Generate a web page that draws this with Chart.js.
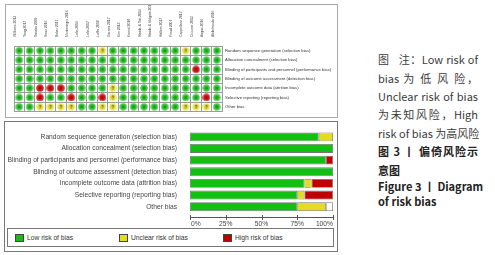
<!DOCTYPE html>
<html>
<head>
<meta charset="utf-8">
<script src="https://cdn.jsdelivr.net/npm/chart.js@4.4.0/dist/chart.umd.min.js"></script>
<style>
  body { margin: 0; width: 495px; height: 255px; background: #fff; position: relative; overflow: hidden;
         font-family: "Liberation Sans", Arial, sans-serif; }
  .box { position: absolute; box-sizing: border-box; }
  #sumBox { left: 5px; top: 4px; width: 333px; height: 114px; border: 1px solid #a8a8a8; }
  #sumWrap { position: absolute; left: 6px; top: 5px; width: 331px; height: 112px; }
  #barBox { left: 4px; top: 121px; width: 334px; height: 131px; border: 1px solid #777; }
  #barWrap { position: absolute; left: 5px; top: 122px; width: 331px; height: 106px; }
  #legend { left: 7px; top: 228px; width: 327px; height: 19px; border: 1px solid #777; font-size: 6.7px; color: #333; }
  .sw { position: absolute; top: 5px; width: 9px; height: 8px; border: 1px solid #444; box-sizing: border-box; }
  .lt { position: absolute; top: 5px; line-height: 8px; }
  .cap { position: absolute; left: 378px; width: 100px; font-family: "Noto Sans CJK SC", sans-serif; font-size: 11px;
         color: #3b3b3b; line-height: 14px; white-space: nowrap; text-align: justify; text-align-last: justify; }
  .cap.b { font-weight: bold; color: #222; }
  .cap.l { text-align-last: left; }
</style>
</head>
<body>
<div class="box" id="sumBox"></div>
<div id="sumWrap"><canvas id="summary" width="331" height="112"></canvas></div>

<div class="box" id="barBox"></div>
<div id="barWrap"><canvas id="bars" width="331" height="106"></canvas></div>
<div class="box" id="legend"></div>

<div class="cap" style="top:52px">图&nbsp;&nbsp;&nbsp;注：Low risk of</div>
<div class="cap" style="top:71px">bias 为 低 风 险，</div>
<div class="cap" style="top:89px">Unclear risk of bias</div>
<div class="cap" style="top:107px">为未知风险，High</div>
<div class="cap" style="top:126px">risk of bias 为高风险</div>
<div class="cap b" style="top:144px">图 3 丨 偏倚风险示</div>
<div class="cap b l" style="top:163px">意图</div>
<div class="cap b" style="top:179px">Figure 3 丨 Diagram</div>
<div class="cap b l" style="top:194px">of risk bias</div>

<script>
const studies = ['Williams 2013', 'Yang 2017', 'Tanaka 2009', 'Sano 2016', 'Baker 2017', 'Montenegro 2016',
  'Lafin 2016', 'Lafin 2017', 'Laffin 2018', 'Gersen 2017', 'Kim 2013', 'Kemal 2018', 'Hands & Tait 2014',
  'Hands & Holgate 2014', 'Hallam 2017', 'Freud 2007', 'Cappellano 2017', 'Ciccone 2013', 'Angus 2016',
  'Abdelmoula 2016'];

const domains = [
  'Random sequence generation (selection bias)',
  'Allocation concealment (selection bias)',
  'Blinding of participants and personnel (performance bias)',
  'Blinding of outcome assessment (detection bias)',
  'Incomplete outcome data (attrition bias)',
  'Selective reporting (reporting bias)',
  'Other bias'
];

// one letter per study: L = low, U = unclear, H = high
const randomSeq  = 'LLLLLLLLULLLLLLLULLL';
const allocation = 'LLLLLLLLLLLLLLLLLLLL';
const blindPart  = 'LLLLLLLLLLLLLLLLLHLL';
const blindOut   = 'LLLLLLLLLLLLLLLLLLLL';
const incomplete = 'LLHHHLLLLULLLLLLLLLL';
const selective  = 'LLHLLHLLHULLLLLLLLHL';
const otherBias  = 'LLUUUULLUULLLLLLUUUL';

// percentage of studies per domain (bottom graph)
const lowPct     = [90, 100, 95, 100, 80, 75, 75];
const unclearPct = [10, 0, 0, 0, 5, 5, 20];
const highPct    = [0, 0, 5, 0, 15, 20, 0];
const blankPct   = [0, 0, 0, 0, 0, 0, 5];

const tickValues = [0, 25, 50, 75, 100];
const tickLabels = ['0%', '25%', '50%', '75%', '100%'];

const GREEN = '#14bf14', YELLOW = '#e4dc20', RED = '#c00000';

// small round marks for the summary grid
function dot(inner, outer, mark) {
  const c = document.createElement('canvas');
  c.width = c.height = 8;
  const g = c.getContext('2d');
  const gr = g.createRadialGradient(4, 4, 0.5, 4, 4, 4);
  gr.addColorStop(0, inner);
  gr.addColorStop(1, outer);
  g.fillStyle = gr;
  g.beginPath();
  g.arc(4, 4, 3.8, 0, Math.PI * 2);
  g.fill();
  if (mark) {
    g.fillStyle = '#555';
    g.font = 'bold 5px Arial';
    g.textAlign = 'center';
    g.textBaseline = 'middle';
    g.fillText(mark, 4, 4.3);
  }
  return c;
}

const rows = [randomSeq, allocation, blindPart, blindOut, incomplete, selective, otherBias];
function points(code) {
  const pts = [];
  rows.forEach((r, i) => r.split('').forEach((c, j) => {
    if (c === code) pts.push({ x: studies[j], y: domains[i] });
  }));
  return pts;
}

const gridColor = '#9c9c9c';
new Chart(document.getElementById('summary'), {
  type: 'scatter',
  data: {
    datasets: [
      { data: points('L'), pointStyle: dot('#0a9e0a', '#6fdc6f') },
      { data: points('U'), pointStyle: dot('#d8cf10', '#f4ef80', '?') },
      { data: points('H'), pointStyle: dot('#b00000', '#e04040') }
    ]
  },
  options: {
    responsive: false,
    animation: false,
    layout: { padding: { left: 1, bottom: 3 } },
    plugins: { legend: { display: false }, tooltip: { enabled: false } },
    scales: {
      x: {
        type: 'category', labels: studies, position: 'top', offset: true,
        grid: { offset: true, color: gridColor, drawTicks: false },
        border: { color: gridColor },
        ticks: { minRotation: 90, maxRotation: 90, autoSkip: false, padding: 9,
                 font: { size: 3.4 }, color: '#444' },
        afterFit: s => { s.height = 41; }
      },
      y: {
        type: 'category', labels: domains, position: 'right', offset: true,
        grid: { offset: true, color: gridColor, drawTicks: false },
        border: { color: gridColor },
        ticks: { autoSkip: false, padding: 3, font: { size: 4.2 }, color: '#333' },
        afterFit: s => { s.width = 115; }
      }
    }
  }
});

// percent axis drawn a little below the bars, RevMan style
const percentAxis = {
  id: 'percentAxis',
  afterDraw(chart) {
    const { ctx, chartArea, scales: { x } } = chart;
    const y = Math.round(chartArea.bottom + 4.5) + 0.5;
    ctx.save();
    ctx.strokeStyle = '#555';
    ctx.lineWidth = 1;
    ctx.beginPath();
    ctx.moveTo(x.getPixelForValue(0), y);
    ctx.lineTo(x.getPixelForValue(100), y);
    tickValues.forEach(v => {
      const px = Math.round(x.getPixelForValue(v)) + 0.5;
      ctx.moveTo(px, y - 2.5);
      ctx.lineTo(px, y + 2.5);
    });
    ctx.stroke();
    ctx.fillStyle = '#444';
    ctx.font = '6.7px "Liberation Sans", Arial';
    ctx.textBaseline = 'middle';
    tickValues.forEach((v, i) => {
      ctx.textAlign = i === 0 ? 'left' : (i === tickValues.length - 1 ? 'right' : 'center');
      ctx.fillText(tickLabels[i], x.getPixelForValue(v) + (i === 0 ? 1 : 0), y + 7);
    });
    ctx.restore();
  }
};

new Chart(document.getElementById('bars'), {
  type: 'bar',
  data: {
    labels: domains,
    datasets: [
      { label: 'Low risk of bias', data: lowPct, backgroundColor: GREEN },
      { label: 'Unclear risk of bias', data: unclearPct, backgroundColor: YELLOW },
      { label: 'High risk of bias', data: highPct, backgroundColor: RED },
      { label: 'No information', data: blankPct, backgroundColor: '#fff' }
    ]
  },
  options: {
    indexAxis: 'y',
    responsive: false,
    animation: false,
    datasets: {
      bar: {
        barPercentage: 0.76, categoryPercentage: 1, borderColor: '#777',
        borderWidth: c => (c.raw ? 0.8 : 0), borderSkipped: false
      }
    },
    layout: { padding: { top: 3, right: 3, bottom: 15.5 } },
    plugins: { legend: { display: false }, tooltip: { enabled: false } },
    scales: {
      x: { stacked: true, min: 0, max: 100, display: false },
      y: {
        stacked: true,
        grid: { display: false }, border: { display: false },
        ticks: { autoSkip: false, padding: 5, font: { size: 6.7 }, color: '#444' },
        afterFit: s => { s.width = 185; }
      }
    }
  },
  plugins: [percentAxis]
});

// legend box under the graph
const legendItems = [
  { text: 'Low risk of bias', color: GREEN, x: 7 },
  { text: 'Unclear risk of bias', color: YELLOW, x: 111 },
  { text: 'High risk of bias', color: RED, x: 215 }
];
const legend = document.getElementById('legend');
legendItems.forEach(it => {
  const sw = document.createElement('div');
  sw.className = 'sw';
  sw.style.left = it.x + 'px';
  sw.style.background = it.color;
  legend.appendChild(sw);
  const t = document.createElement('div');
  t.className = 'lt';
  t.style.left = (it.x + 12) + 'px';
  t.textContent = it.text;
  legend.appendChild(t);
});
</script>
</body>
</html>
